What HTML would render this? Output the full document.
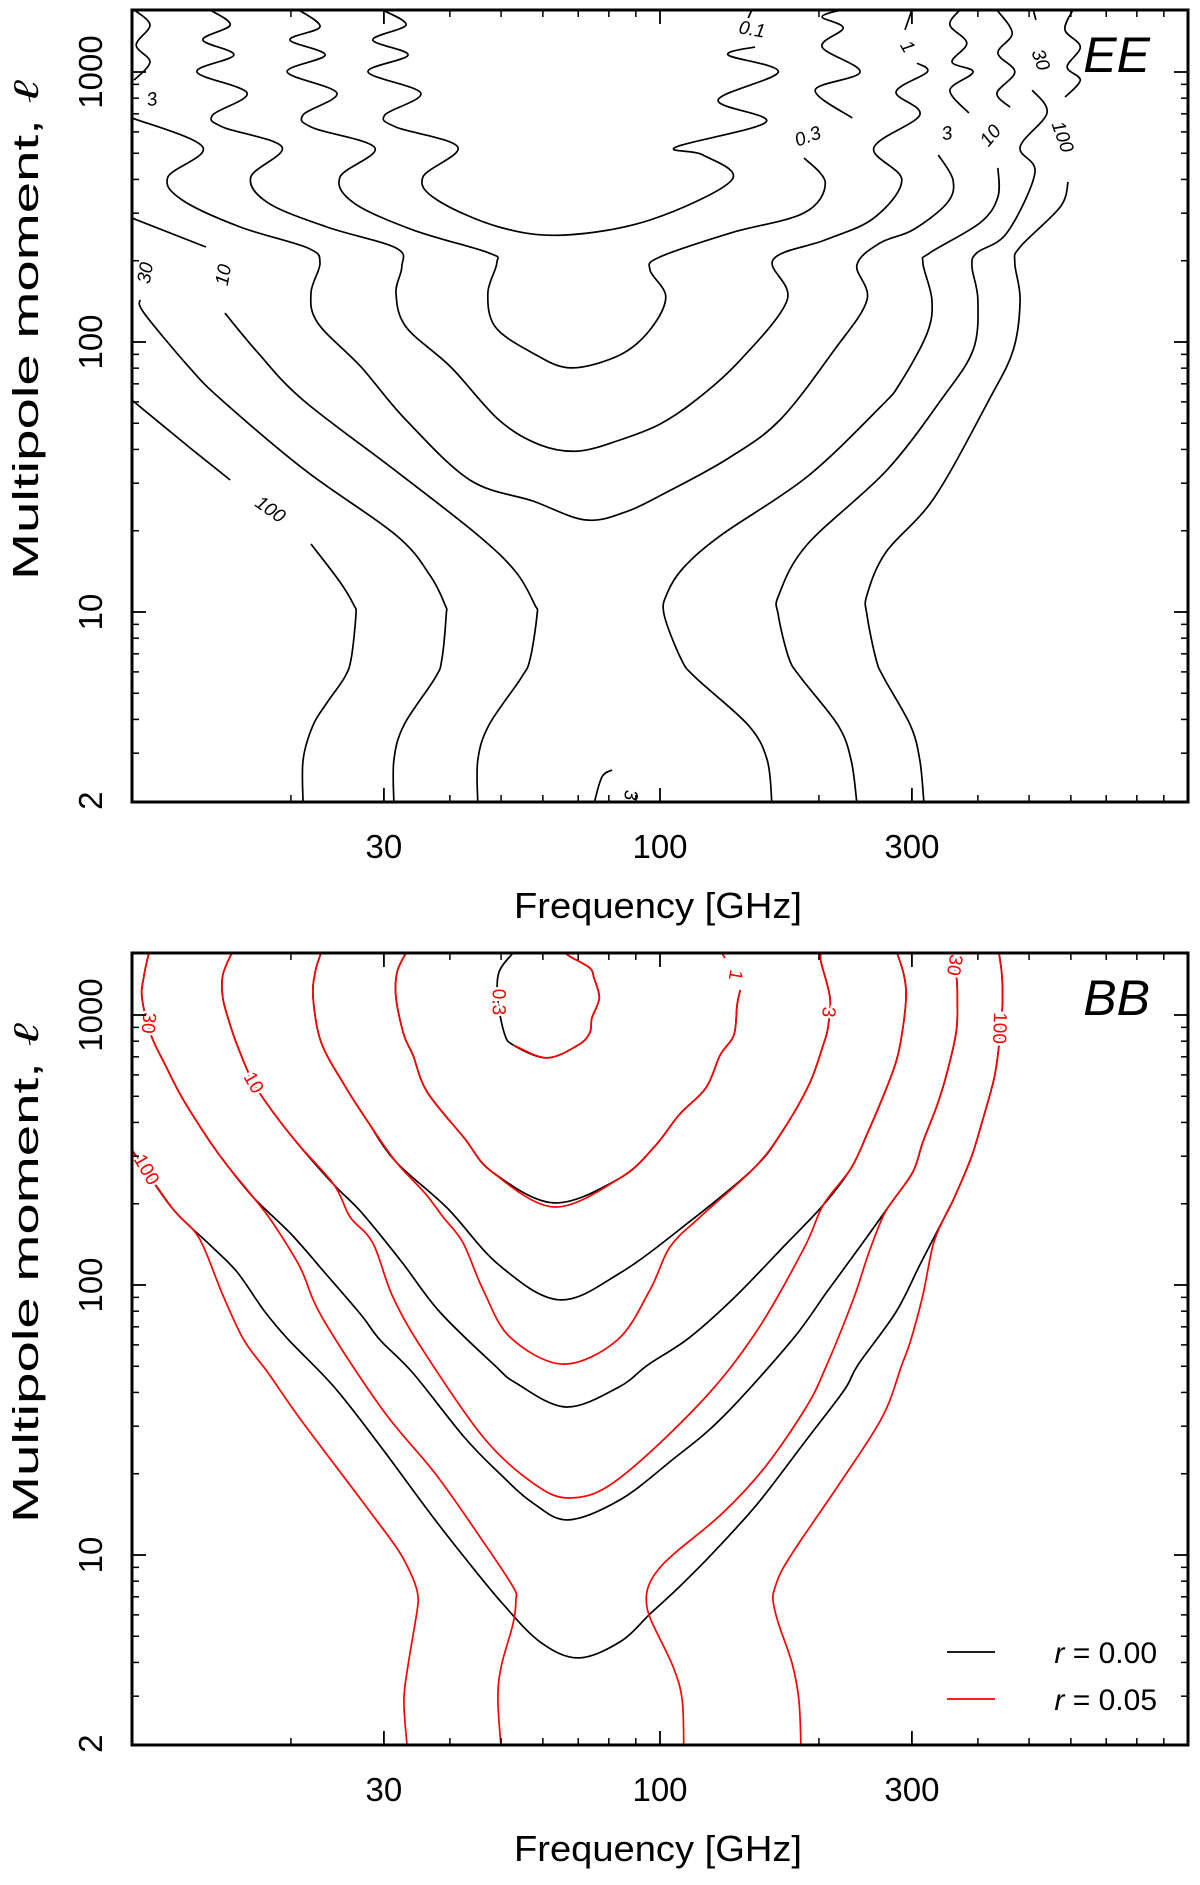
<!DOCTYPE html>
<html><head><meta charset="utf-8"><style>
html,body{margin:0;padding:0;background:#fff}
svg{display:block}
text{font-family:"Liberation Sans",sans-serif}
</style></head><body>
<svg id="fig" width="1200" height="1885" viewBox="0 0 1200 1885" xmlns="http://www.w3.org/2000/svg">
<defs>
<clipPath id="clipTop"><rect x="132" y="10" width="1056" height="792"/></clipPath>
<clipPath id="clipBot"><rect x="132" y="953" width="1056" height="792"/></clipPath>
</defs>
<g id="topPanel"></g>
<g id="botPanel"></g>
</svg>
<script>
// ---- axis data (log10 units) ----
const xMajorTicks = [1, 1.4771, 2, 2.4771, 3];
const xTickLabels = ["", "30", "100", "300", ""];
const xMinorTicks = [1.3010,1.6021,1.6990,1.7782,1.8451,1.9031,1.9542,2.3010,2.6021,2.6990,2.7782,2.8451,2.9031,2.9542];
const yMajorTicks = [0.3010, 1, 2, 3];
const yTickLabels = ["2", "10", "100", "1000"];
const yMinorTicks = [0.4771,0.6021,0.6990,0.7782,0.8451,0.9031,0.9542,1.3010,1.4771,1.6021,1.6990,1.7782,1.8451,1.9031,1.9542,2.3010,2.4771,2.6021,2.6990,2.7782,2.8451,2.9031,2.9542];

// ---- EE contours: [log10 nu(GHz), log10 ell] ----
const ee_01 = [[1.474,3.23],[1.519,3.174],[1.456,3.119],[1.523,3.063],[1.447,3.0],[1.547,2.922],[1.479,2.841],[1.5,2.796],[1.617,2.722],[1.551,2.611],[1.578,2.526],[1.695,2.426],[1.818,2.396],[1.981,2.452],[2.136,2.6],[2.081,2.693],[2.03,2.722],[2.201,2.815],[2.11,2.896],[2.224,3.0],[2.129,3.063],[2.18,3.093]];
const ee_01b = [[2.167,3.2],[2.174,3.23]];
const ee_03 = [[1.316,3.23],[1.356,3.167],[1.299,3.119],[1.366,3.063],[1.294,3.0],[1.388,2.922],[1.324,2.841],[1.343,2.793],[1.46,2.719],[1.394,2.611],[1.42,2.515],[1.532,2.415],[1.676,2.33],[1.691,2.293],[1.674,2.182],[1.688,2.056],[1.759,1.959],[1.831,1.904],[1.924,1.952],[1.981,2.045],[2.011,2.167],[1.981,2.267],[2.0,2.315],[2.134,2.404],[2.273,2.478],[2.313,2.589],[2.273,2.682]];
const ee_03b = [[2.364,2.83],[2.294,2.933],[2.379,3.0],[2.307,3.093],[2.347,3.163],[2.307,3.204],[2.343,3.23]];
const ee_1 = [[1.148,3.23],[1.186,3.174],[1.134,3.119],[1.193,3.063],[1.123,3.0],[1.218,2.922],[1.153,2.841],[1.172,2.796],[1.284,2.722],[1.225,2.611],[1.258,2.515],[1.369,2.426],[1.5,2.348],[1.511,2.278],[1.5,2.182],[1.519,2.056],[1.604,1.907],[1.695,1.711],[1.773,1.619],[1.845,1.596],[1.924,1.637],[2.0,1.696],[2.068,1.785],[2.152,1.933],[2.241,2.156],[2.214,2.304],[2.313,2.378],[2.405,2.459],[2.458,2.6],[2.405,2.719],[2.492,2.841],[2.447,2.926],[2.506,3.0],[2.487,3.033]];
const ee_1b = [[2.464,3.156],[2.477,3.23]];
const ee_3 = [[1.0,2.83],[1.134,2.722],[1.068,2.611],[1.095,2.526],[1.205,2.426],[1.333,2.348],[1.356,2.293],[1.339,2.182],[1.352,2.07],[1.434,1.907],[1.519,1.711],[1.64,1.489],[1.759,1.411],[1.858,1.341],[1.934,1.37],[2.017,1.448],[2.13,1.57],[2.227,1.711],[2.33,1.97],[2.392,2.156],[2.373,2.285],[2.417,2.367],[2.479,2.415],[2.544,2.515],[2.555,2.6],[2.527,2.693]];
const ee_3b = [[2.585,2.848],[2.549,2.933],[2.593,3.0],[2.553,3.037],[2.581,3.107],[2.549,3.174],[2.568,3.23]];
const ee_3c = [[1.004,3.23],[1.034,3.174],[1.008,3.1],[1.034,3.037],[1.004,2.97]];
const ee_3d = [[1.875,0.29],[1.89,0.389],[1.909,0.415]];
const ee_10a = [[1.0,2.459],[1.14,2.352]];
const ee_10 = [[1.176,2.107],[1.239,1.959],[1.324,1.785],[1.5,1.522],[1.655,1.285],[1.727,1.148],[1.763,1.026],[1.767,0.989],[1.754,0.826],[1.737,0.756],[1.676,0.581],[1.655,0.452],[1.655,0.29]];
const ee_10r = [[2.212,0.29],[2.203,0.452],[2.167,0.581],[2.068,0.756],[2.04,0.826],[2.008,0.989],[2.013,1.067],[2.044,1.163],[2.116,1.285],[2.278,1.5],[2.417,1.759],[2.455,1.848],[2.506,2.033],[2.515,2.156],[2.498,2.293],[2.511,2.33],[2.606,2.441],[2.64,2.537],[2.64,2.645]];
const ee_10rb = [[2.663,2.87],[2.638,2.922],[2.672,3.0],[2.64,3.07],[2.667,3.144],[2.638,3.23]];
const ee_30 = [[1.015,2.156],[1.023,2.107],[1.108,1.907],[1.17,1.785],[1.33,1.522],[1.5,1.285],[1.564,1.137],[1.593,1.026],[1.595,0.989],[1.587,0.826],[1.574,0.756],[1.515,0.581],[1.496,0.452],[1.496,0.29]];
const ee_30r = [[2.373,0.29],[2.362,0.452],[2.337,0.581],[2.267,0.756],[2.244,0.83],[2.224,0.989],[2.225,1.063],[2.278,1.248],[2.428,1.522],[2.532,1.785],[2.593,1.97],[2.602,2.156],[2.591,2.278],[2.6,2.33],[2.657,2.404],[2.71,2.626],[2.682,2.722],[2.733,2.848],[2.705,2.933]];
const ee_30rb = [[2.712,3.193],[2.707,3.23]];
const ee_100a = [[1.0,1.785],[1.108,1.611],[1.186,1.489]];
const ee_100 = [[1.339,1.252],[1.394,1.111],[1.42,1.026],[1.424,0.989],[1.415,0.826],[1.402,0.756],[1.369,0.663],[1.343,0.581],[1.324,0.452],[1.324,0.29]];
const ee_100r = [[2.5,0.29],[2.492,0.452],[2.474,0.581],[2.424,0.756],[2.409,0.826],[2.392,0.989],[2.392,1.063],[2.428,1.222],[2.519,1.422],[2.623,1.785],[2.669,1.97],[2.682,2.156],[2.672,2.293],[2.682,2.352],[2.758,2.5],[2.773,2.593]];
const ee_100rb = [[2.767,2.907],[2.796,2.97],[2.771,3.019],[2.796,3.093],[2.767,3.156],[2.782,3.23]];

// ---- BB contours, r = 0.00 (black) ----
const bb0_03 = [[1.722,3.23],[1.695,3.159],[1.693,3.056],[1.705,2.934],[1.722,2.889],[1.786,2.841],[1.845,2.889],[1.867,2.934],[1.871,2.989],[1.885,3.063],[1.875,3.137],[1.867,3.174],[1.831,3.215],[1.82,3.23]];
const bb0_1 = [[1.519,3.23],[1.502,3.159],[1.5,3.063],[1.515,2.926],[1.532,2.852],[1.559,2.715],[1.629,2.545],[1.682,2.419],[1.799,2.304],[1.924,2.396],[1.989,2.511],[2.036,2.63],[2.087,2.73],[2.114,2.852],[2.14,2.926],[2.146,3.037],[2.152,3.093]];
const bb0_3 = [[1.358,3.23],[1.347,3.159],[1.343,3.063],[1.358,2.9],[1.402,2.741],[1.447,2.604],[1.5,2.456],[1.597,2.285],[1.695,2.074],[1.809,1.945],[1.924,2.044],[2.055,2.233],[2.178,2.433],[2.231,2.567],[2.282,2.741],[2.309,2.889],[2.318,2.952],[2.322,3.063],[2.305,3.196],[2.305,3.23]];
const bb0_10 = [[1.189,3.23],[1.172,3.148],[1.172,3.063],[1.186,2.963],[1.199,2.889],[1.229,2.752],[1.271,2.63],[1.316,2.519],[1.383,2.37],[1.434,2.27],[1.511,2.085],[1.583,1.9],[1.686,1.704],[1.727,1.637],[1.822,1.548],[1.922,1.622],[1.977,1.704],[2.055,1.804],[2.14,1.952],[2.237,2.148],[2.309,2.296],[2.362,2.433],[2.394,2.567],[2.426,2.715],[2.447,2.826],[2.458,2.926],[2.466,3.063],[2.462,3.148],[2.449,3.23]];
const bb0_30 = [[1.032,3.23],[1.023,3.148],[1.019,3.063],[1.036,2.926],[1.063,2.815],[1.095,2.693],[1.148,2.53],[1.18,2.444],[1.231,2.322],[1.303,2.185],[1.369,2.037],[1.434,1.889],[1.47,1.796],[1.532,1.674],[1.629,1.437],[1.695,1.304],[1.759,1.193],[1.826,1.13],[1.924,1.204],[2.023,1.352],[2.119,1.511],[2.25,1.796],[2.316,1.974],[2.381,2.148],[2.439,2.307],[2.479,2.419],[2.498,2.53],[2.525,2.667],[2.544,2.789],[2.561,2.937],[2.563,3.048],[2.561,3.148],[2.547,3.23]];
const bb0_100 = [[1.0,2.5],[1.076,2.285],[1.148,2.148],[1.199,2.048],[1.252,1.9],[1.297,1.796],[1.383,1.622],[1.466,1.415],[1.564,1.156],[1.629,0.993],[1.701,0.822],[1.773,0.678],[1.845,0.619],[1.924,0.678],[1.983,0.785],[2.036,0.881],[2.1,1.007],[2.186,1.193],[2.277,1.426],[2.349,1.611],[2.375,1.704],[2.447,1.9],[2.492,2.074],[2.538,2.248],[2.557,2.322],[2.589,2.47],[2.61,2.604],[2.633,2.767],[2.642,2.889],[2.648,3.011],[2.648,3.137],[2.642,3.23]];

// ---- BB contours, r = 0.05 (red) ----
const bb5_03 = [[1.722,2.889],[1.786,2.841],[1.845,2.889],[1.867,2.934],[1.871,2.989],[1.885,3.063],[1.875,3.137],[1.867,3.174],[1.831,3.215],[1.82,3.23]];
const bb5_1 = [[1.519,3.23],[1.502,3.159],[1.5,3.063],[1.515,2.926],[1.532,2.852],[1.559,2.715],[1.629,2.545],[1.682,2.419],[1.799,2.289],[1.924,2.396],[1.989,2.511],[2.036,2.63],[2.087,2.73],[2.114,2.852],[2.14,2.926],[2.146,3.037],[2.152,3.093]];
const bb5_1b = [[2.123,3.211],[2.117,3.23]];
const bb5_3 = [[1.358,3.23],[1.347,3.159],[1.343,3.063],[1.358,2.9],[1.402,2.741],[1.447,2.604],[1.5,2.456],[1.555,2.34],[1.589,2.252],[1.627,2.156],[1.665,1.982],[1.716,1.807],[1.816,1.707],[1.919,1.796],[1.981,1.982],[2.019,2.141],[2.076,2.252],[2.178,2.433],[2.231,2.567],[2.282,2.741],[2.309,2.889],[2.318,2.952],[2.322,3.063],[2.305,3.196],[2.305,3.23]];
const bb5_10 = [[1.189,3.23],[1.172,3.148],[1.172,3.063],[1.186,2.963],[1.199,2.889],[1.229,2.752],[1.271,2.63],[1.316,2.519],[1.383,2.37],[1.413,2.252],[1.456,2.156],[1.494,1.956],[1.551,1.759],[1.665,1.437],[1.759,1.267],[1.83,1.211],[1.919,1.278],[2.076,1.563],[2.182,1.826],[2.273,2.137],[2.309,2.296],[2.362,2.433],[2.394,2.567],[2.426,2.715],[2.447,2.826],[2.458,2.926],[2.466,3.063],[2.462,3.148],[2.449,3.23]];
const bb5_30 = [[1.032,3.23],[1.023,3.148],[1.019,3.063],[1.036,2.926],[1.063,2.815],[1.095,2.693],[1.148,2.53],[1.18,2.444],[1.231,2.322],[1.265,2.235],[1.318,2.067],[1.36,1.88],[1.475,1.537],[1.575,1.3],[1.665,1.05],[1.722,0.881],[1.727,0.833],[1.722,0.748],[1.699,0.585],[1.693,0.463],[1.699,0.29]];
const bb5_30r = [[2.045,0.29],[2.042,0.463],[2.025,0.585],[1.983,0.759],[1.974,0.833],[1.979,0.889],[1.996,0.944],[2.028,1.007],[2.119,1.156],[2.199,1.326],[2.277,1.548],[2.316,1.704],[2.367,1.952],[2.394,2.111],[2.421,2.248],[2.439,2.307],[2.479,2.419],[2.498,2.53],[2.525,2.667],[2.544,2.789],[2.561,2.937],[2.563,3.048],[2.561,3.148],[2.547,3.23]];
const bb5_100 = [[1.0,2.5],[1.076,2.285],[1.127,2.174],[1.172,1.963],[1.212,1.796],[1.258,1.674],[1.316,1.511],[1.434,1.204],[1.5,1.03],[1.525,0.944],[1.538,0.881],[1.542,0.833],[1.538,0.77],[1.523,0.593],[1.515,0.463],[1.521,0.29]];
const bb5_100r = [[2.267,0.29],[2.263,0.463],[2.25,0.6],[2.224,0.748],[2.214,0.833],[2.218,0.881],[2.231,0.944],[2.263,1.044],[2.341,1.267],[2.421,1.511],[2.458,1.704],[2.475,1.796],[2.498,1.963],[2.517,2.148],[2.538,2.248],[2.557,2.322],[2.589,2.47],[2.61,2.604],[2.633,2.767],[2.642,2.889],[2.648,3.011],[2.648,3.137],[2.642,3.23]];

const NS = "http://www.w3.org/2000/svg";
const X0 = 132, XW = 528;
function xScale(lnu){ return X0 + (lnu - 1) * XW; }
function yTopScale(ll){ return 612 - (ll - 1) * 270; }
function yBotScale(ll){ return 1555 - (ll - 1) * 270; }

function mk(tag, attrs, parent){
  const e = document.createElementNS(NS, tag);
  for (const k in attrs) e.setAttribute(k, attrs[k]);
  parent.appendChild(e);
  return e;
}
function smoothPath(pts){
  if (pts.length < 3) return "M" + pts.map(p => p[0].toFixed(1) + "," + p[1].toFixed(1)).join(" L");
  let d = "M" + pts[0][0].toFixed(1) + "," + pts[0][1].toFixed(1);
  for (let i = 0; i < pts.length - 1; i++){
    const p0 = pts[i-1] || pts[i], p1 = pts[i], p2 = pts[i+1], p3 = pts[i+2] || p2;
    const c1x = p1[0] + (p2[0]-p0[0])/6, c1y = p1[1] + (p2[1]-p0[1])/6;
    const c2x = p2[0] - (p3[0]-p1[0])/6, c2y = p2[1] - (p3[1]-p1[1])/6;
    d += " C" + c1x.toFixed(1)+","+c1y.toFixed(1)+" "+c2x.toFixed(1)+","+c2y.toFixed(1)+" "+p2[0].toFixed(1)+","+p2[1].toFixed(1);
  }
  return d;
}
function drawCurve(parent, data, yS, color, name){
  const pts = data.map(p => [xScale(p[0]), yS(p[1])]);
  const el = mk("path", {d: smoothPath(pts), fill: "none", stroke: color, "stroke-width": 1.7, "stroke-linejoin": "round"}, parent);
  
  
}
function label(parent, txt, x, y, rot, color, name){
  const t = mk("text", {x: x, y: y, "font-size": 19, fill: color, "text-anchor": "middle", "dominant-baseline": "central",
    transform: "rotate(" + rot + " " + x + " " + y + ")", stroke: "#fff", "stroke-width": 5, "paint-order": "stroke", "font-style": color === "#000" ? "italic" : "normal"}, parent);
  t.textContent = txt;
  
  
}

function drawAxes(parent, yS, top, bottom, panelName){
  const ax = mk("g", {}, parent);
  
  
  xMajorTicks.forEach((v, i) => {
    const x = xScale(v);
    mk("line", {x1:x, x2:x, y1:bottom, y2:bottom-14, stroke:"#000", "stroke-width":1.8}, ax);
    mk("line", {x1:x, x2:x, y1:top, y2:top+14, stroke:"#000", "stroke-width":1.8}, ax);
    if (xTickLabels[i]){
      const t = mk("text", {x:x, y:bottom+56, "font-size":33, "text-anchor":"middle", fill:"#000"}, ax);
      t.textContent = xTickLabels[i];
      
      
    }
  });
  xMinorTicks.forEach(v => {
    const x = xScale(v);
    mk("line", {x1:x, x2:x, y1:bottom, y2:bottom-7, stroke:"#000", "stroke-width":1.5}, ax);
    mk("line", {x1:x, x2:x, y1:top, y2:top+7, stroke:"#000", "stroke-width":1.5}, ax);
  });
  yMajorTicks.forEach((v, i) => {
    const y = yS(v);
    if (i > 0){
      mk("line", {x1:132, x2:146, y1:y, y2:y, stroke:"#000", "stroke-width":1.8}, ax);
      mk("line", {x1:1188, x2:1174, y1:y, y2:y, stroke:"#000", "stroke-width":1.8}, ax);
    }
    const t = mk("text", {x:0, y:0, "font-size":33, "text-anchor":"middle", fill:"#000",
      transform:"translate(102," + y + ") rotate(-90)"}, ax);
    t.textContent = yTickLabels[i];
    
    
  });
  yMinorTicks.forEach(v => {
    const y = yS(v);
    mk("line", {x1:132, x2:139, y1:y, y2:y, stroke:"#000", "stroke-width":1.5}, ax);
    mk("line", {x1:1188, x2:1181, y1:y, y2:y, stroke:"#000", "stroke-width":1.5}, ax);
  });
  const fr = mk("rect", {x:132, y:top, width:1056, height:bottom-top, fill:"none", stroke:"#000", "stroke-width":3}, ax);
  
  
  const xt = mk("text", {x:658, y:bottom+116, "font-size":36, "text-anchor":"middle", fill:"#000", textLength:288, lengthAdjust:"spacingAndGlyphs"}, ax);
  xt.textContent = "Frequency [GHz]";
  
  
  const yt = mk("text", {x:0, y:0, "font-size":36, "text-anchor":"middle", fill:"#000", textLength:500, lengthAdjust:"spacingAndGlyphs",
    transform:"translate(38," + ((top+bottom)/2 - 76) + ") rotate(-90)"}, ax);
  yt.innerHTML = 'Multipole moment, <tspan font-family="Liberation Serif" font-style="italic">ℓ</tspan>';
  
  
}

// ---- EE panel ----
const tp = document.getElementById("topPanel");
const tc = mk("g", {"clip-path":"url(#clipTop)"}, tp);


[[ee_01,'ee-contour-0.1'],[ee_01b,'ee-contour-0.1'],[ee_03,'ee-contour-0.3'],[ee_03b,'ee-contour-0.3'],
 [ee_1,'ee-contour-1'],[ee_1b,'ee-contour-1'],[ee_3,'ee-contour-3'],[ee_3b,'ee-contour-3'],[ee_3c,'ee-contour-3'],[ee_3d,'ee-contour-3'],
 [ee_10a,'ee-contour-10'],[ee_10,'ee-contour-10'],[ee_10r,'ee-contour-10'],[ee_10rb,'ee-contour-10'],
 [ee_30,'ee-contour-30'],[ee_30r,'ee-contour-30'],[ee_30rb,'ee-contour-30'],
 [ee_100a,'ee-contour-100'],[ee_100,'ee-contour-100'],[ee_100r,'ee-contour-100'],[ee_100rb,'ee-contour-100']
].forEach(c => drawCurve(tc, c[0], yTopScale, "#000", c[1]));
label(tp, "0.1", 752, 30, 10, "#000", "ee-label-0.1");
label(tp, "0.3", 808, 137, -20, "#000", "ee-label-0.3");
label(tp, "1", 907, 47, 60, "#000", "ee-label-1");
label(tp, "3", 947, 134, -10, "#000", "ee-label-3");
label(tp, "10", 991, 136, -50, "#000", "ee-label-10");
label(tp, "30", 1040, 60, 70, "#000", "ee-label-30");
label(tp, "100", 1062, 137, 70, "#000", "ee-label-100");
label(tp, "3", 152, 100, -10, "#000", "ee-label-3-left");
label(tp, "30", 146, 273, -80, "#000", "ee-label-30-left");
label(tp, "10", 224, 275, -80, "#000", "ee-label-10-left");
label(tp, "100", 270, 510, 35, "#000", "ee-label-100-left");
label(tp, "3", 630, 795, 90, "#000", "ee-label-3-bottom");
drawAxes(tp, yTopScale, 10, 802, "ee");
const eeT = mk("text", {x:1150, y:72, "font-size":50, "font-style":"italic", "text-anchor":"end", fill:"#000"}, tp);
eeT.textContent = "EE";



// ---- BB panel ----
const bp = document.getElementById("botPanel");
const bc = mk("g", {"clip-path":"url(#clipBot)"}, bp);


[[bb0_03,'bb-r000-contour-0.3'],[bb0_1,'bb-r000-contour-1'],[bb0_3,'bb-r000-contour-3'],[bb0_10,'bb-r000-contour-10'],[bb0_30,'bb-r000-contour-30'],[bb0_100,'bb-r000-contour-100']
].forEach(c => drawCurve(bc, c[0], yBotScale, "#000", c[1]));
[[bb5_03,'bb-r005-contour-0.3'],[bb5_1,'bb-r005-contour-1'],[bb5_1b,'bb-r005-contour-1'],[bb5_3,'bb-r005-contour-3'],[bb5_10,'bb-r005-contour-10'],[bb5_30,'bb-r005-contour-30'],[bb5_30r,'bb-r005-contour-30'],[bb5_100,'bb-r005-contour-100'],[bb5_100r,'bb-r005-contour-100']
].forEach(c => drawCurve(bc, c[0], yBotScale, "#f00", c[1]));
label(bp, "0.3", 498, 1002, 90, "#f00", "bb-label-0.3");
label(bp, "1", 735, 975, 100, "#f00", "bb-label-1");
label(bp, "3", 828, 1012, 95, "#f00", "bb-label-3");
label(bp, "10", 253, 1083, 60, "#f00", "bb-label-10");
label(bp, "30", 148, 1023, 95, "#f00", "bb-label-30");
label(bp, "30", 954, 965, 100, "#f00", "bb-label-30-right");
label(bp, "100", 999, 1028, 92, "#f00", "bb-label-100");
label(bp, "100", 146, 1170, 60, "#f00", "bb-label-100-left");
drawAxes(bp, yBotScale, 953, 1745, "bb");
const bbT = mk("text", {x:1150, y:1015, "font-size":50, "font-style":"italic", "text-anchor":"end", fill:"#000"}, bp);
bbT.textContent = "BB";



// legend
const lg = mk("g", {}, bp);


const legendLabels = ["r = 0.00", "r = 0.05"];
const legendColors = ["#000", "#f00"];
legendLabels.forEach((s, i) => {
  const y = 1652 + i * 47;
  const ln = mk("line", {x1:947, x2:995, y1:y, y2:y, stroke:legendColors[i], "stroke-width":1.8}, lg);
  
  
  const t = mk("text", {x:1157, y:y+11, "font-size":30, "text-anchor":"end", fill:"#000"}, lg);
  t.innerHTML = '<tspan font-style="italic">r</tspan> = ' + s.slice(4);
  
  
});
</script>
</body></html>
